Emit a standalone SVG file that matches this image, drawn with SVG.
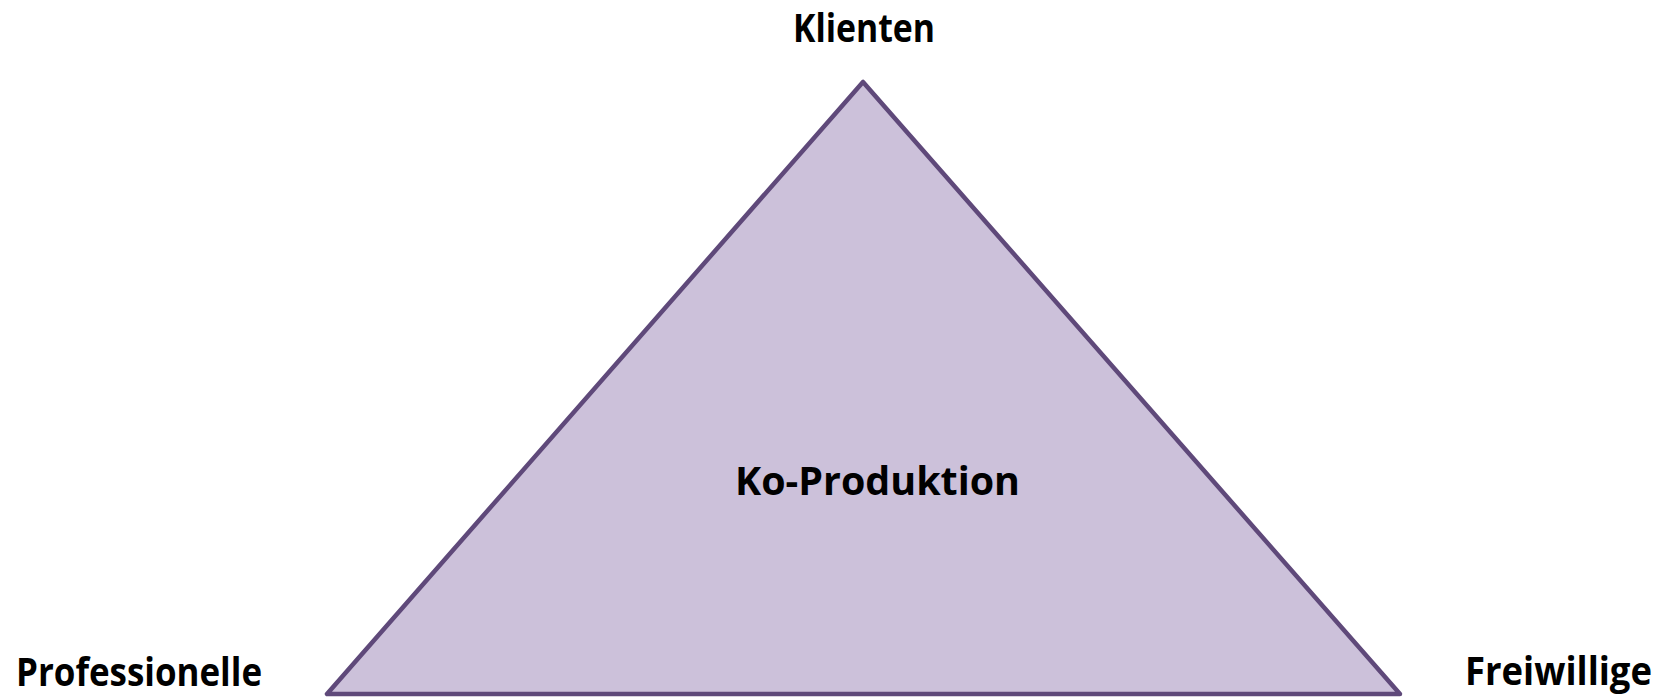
<svg xmlns="http://www.w3.org/2000/svg" width="1662" height="700" viewBox="0 0 1662 700">
<style>
.lbl{font-family:"Open Sans","Noto Sans","Liberation Sans",sans-serif;font-weight:bold;font-size:40px;fill:#000}
.tri{fill:#CCC1DA;stroke:#5F497A;stroke-width:4.5;stroke-linejoin:round}
</style>
<rect width="1662" height="700" fill="#fff"/>
<g id="connectors"></g>
<g id="triangle">
<polygon class="tri" points="863,82 327,694 1400,694"/>
<text class="lbl" x="735" y="495" textLength="285" lengthAdjust="spacingAndGlyphs">Ko-Produktion</text>
</g>
<g id="klienten"><text class="lbl" x="793" y="42" textLength="142" lengthAdjust="spacingAndGlyphs">Klienten</text></g>
<g id="professionelle"><text class="lbl" x="16" y="686" textLength="246" lengthAdjust="spacingAndGlyphs">Professionelle</text></g>
<g id="freiwillige"><text class="lbl" x="1465" y="685" textLength="187" lengthAdjust="spacingAndGlyphs">Freiwillige</text></g>
</svg>
